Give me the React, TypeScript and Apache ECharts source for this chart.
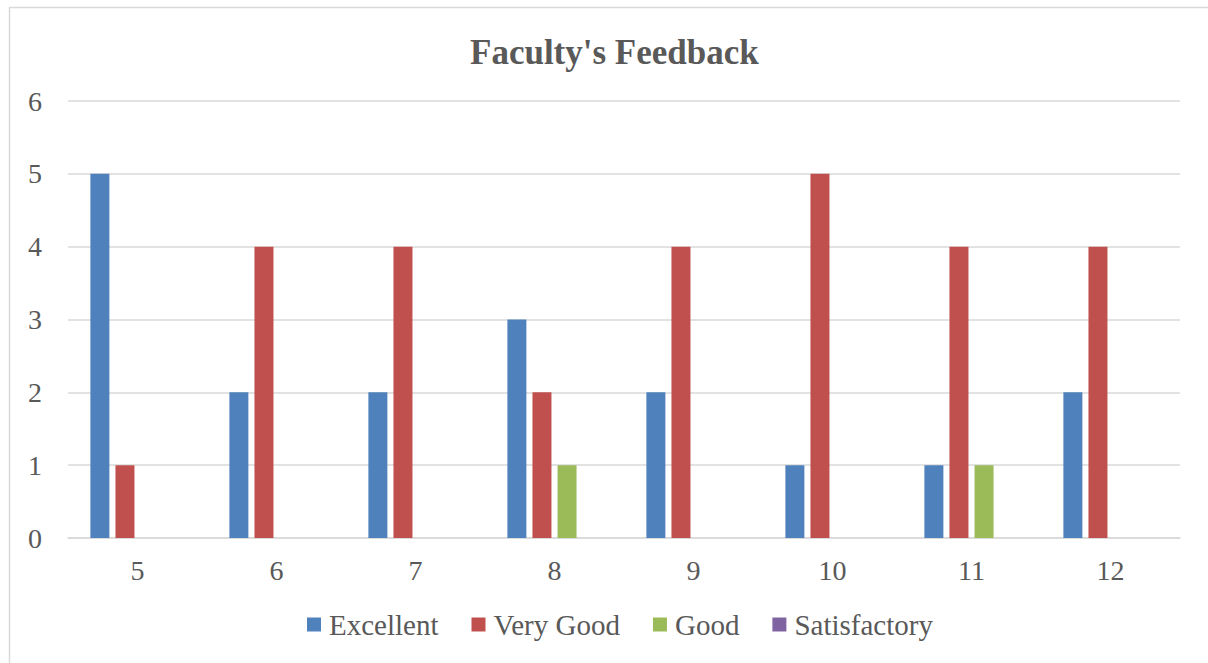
import React, { useEffect, useRef } from "react";
import * as echarts from "echarts";

const categories = ["5", "6", "7", "8", "9", "10", "11", "12"];
const excellent = [5, 2, 2, 3, 2, 1, 1, 2];
const veryGood = [1, 4, 4, 2, 4, 5, 4, 4];
const good = [0, 0, 0, 1, 0, 0, 1, 0];
const satisfactory = [0, 0, 0, 0, 0, 0, 0, 0];
const seriesNames = ["Excellent", "Very Good", "Good", "Satisfactory"];
const colors = ["#4F81BD", "#C0504D", "#9BBB59", "#8064A2"];

const FONT = "'Liberation Serif', 'Times New Roman', serif";

export default function App() {
  const ref = useRef<HTMLDivElement>(null);
  useEffect(() => {
    document.body.style.margin = "0";
    const chart = echarts.init(ref.current!, null, { renderer: "svg" });
    const values = [excellent, veryGood, good, satisfactory];
    chart.setOption({
      animation: false,
      title: {
        text: "Faculty's Feedback",
        left: 465,
        top: 30,
        textStyle: { fontFamily: FONT, fontSize: 35, fontWeight: "bold", color: "#595959" },
      },
      graphic: [
        {
          type: "rect",
          shape: { x: 9.5, y: 7.5, width: 1210, height: 700 },
          style: { fill: "none", stroke: "#d9d9d9", lineWidth: 1.5 },
          silent: true,
        },
      ],
      legend: {
        bottom: 19,
        left: 302,
        itemWidth: 14,
        itemHeight: 14,
        itemGap: 33,
        icon: "rect",
        textStyle: { fontFamily: FONT, fontSize: 29, color: "#595959", padding: [0, 0, 0, 3] },
        data: seriesNames,
      },
      grid: { left: 68, right: 28, top: 101, bottom: 125 },
      xAxis: {
        type: "category",
        data: categories,
        axisLine: { lineStyle: { color: "#d9d9d9", width: 1.5 } },
        axisTick: { show: false },
        axisLabel: { fontFamily: FONT, fontSize: 28, color: "#595959", margin: 18 },
      },
      yAxis: {
        type: "value",
        min: 0,
        max: 6,
        interval: 1,
        axisLine: { show: false },
        axisTick: { show: false },
        axisLabel: { fontFamily: FONT, fontSize: 28, color: "#595959", margin: 26 },
        splitLine: { lineStyle: { color: "#d9d9d9", width: 1.5 } },
      },
      series: seriesNames.map((name, i) => ({
        name,
        type: "bar",
        data: values[i],
        barWidth: 19,
        barGap: "32%",
        itemStyle: { color: colors[i] },
      })),
    });
    return () => chart.dispose();
  }, []);
  return <div ref={ref} style={{ width: 1208, height: 663 }} />;
}
